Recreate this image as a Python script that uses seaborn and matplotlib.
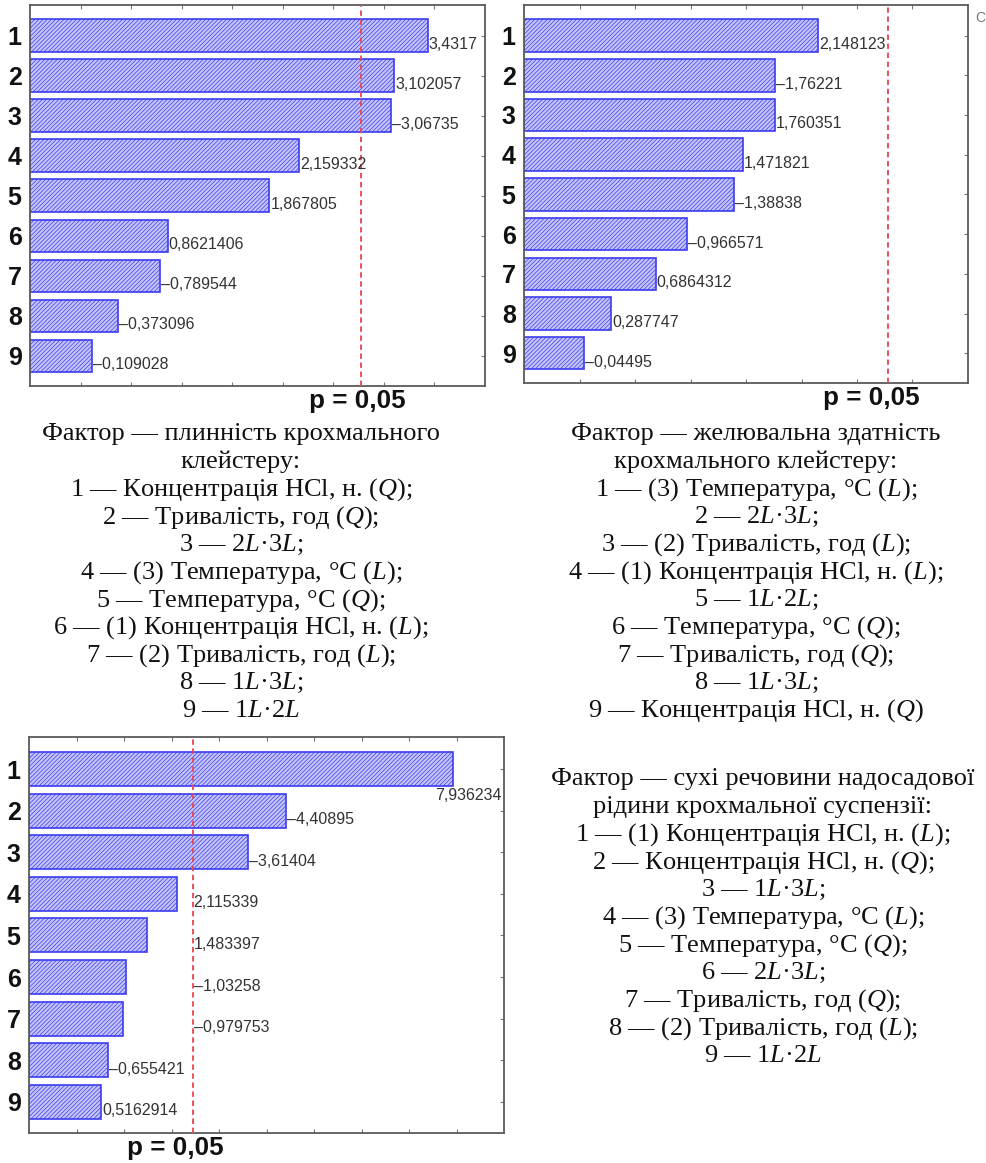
import numpy as np
import pandas as pd
import matplotlib
matplotlib.use("Agg")
import matplotlib.pyplot as plt
import seaborn as sns

# ---- data ---------------------------------------------------------------
factors = ["1", "2", "3", "4", "5", "6", "7", "8", "9"]

# standardized effect estimates (signed), Pareto order
effects_flow = [3.4317, 3.102057, -3.06735, 2.159332, 1.867805,
                0.8621406, -0.789544, -0.373096, -0.109028]
effects_gel = [2.148123, -1.76221, 1.760351, 1.471821, -1.38838,
               -0.966571, 0.6864312, 0.287747, -0.04495]
effects_solids = [7.936234, -4.40895, -3.61404, 2.115339, 1.483397,
                  -1.03258, -0.979753, -0.655421, 0.5162914]

# critical t values for p = 0,05
t_crit_flow = 2.776
t_crit_gel = 2.776
t_crit_solids = 2.447

p_label = "p = 0,05"

legend_flow = [
    "Фактор — плинність крохмального",
    "клейстеру:",
    "1 — Концентрація HCl, н. ($Q$);",
    "2 — Тривалість, год ($Q$);",
    "3 — 2$L$·3$L$;",
    "4 — (3) Температура, °C ($L$);",
    "5 — Температура, °C ($Q$);",
    "6 — (1) Концентрація HCl, н. ($L$);",
    "7 — (2) Тривалість, год ($L$);",
    "8 — 1$L$·3$L$;",
    "9 — 1$L$·2$L$",
]
legend_gel = [
    "Фактор — желювальна здатність",
    "крохмального клейстеру:",
    "1 — (3) Температура, °C ($L$);",
    "2 — 2$L$·3$L$;",
    "3 — (2) Тривалість, год ($L$);",
    "4 — (1) Концентрація HCl, н. ($L$);",
    "5 — 1$L$·2$L$;",
    "6 — Температура, °C ($Q$);",
    "7 — Тривалість, год ($Q$);",
    "8 — 1$L$·3$L$;",
    "9 — Концентрація HCl, н. ($Q$)",
]
legend_solids = [
    "Фактор — сухі речовини надосадової",
    "рідини крохмальної суспензії:",
    "1 — (1) Концентрація HCl, н. ($L$);",
    "2 — Концентрація HCl, н. ($Q$);",
    "3 — 1$L$·3$L$;",
    "4 — (3) Температура, °C ($L$);",
    "5 — Температура, °C ($Q$);",
    "6 — 2$L$·3$L$;",
    "7 — Тривалість, год ($Q$);",
    "8 — (2) Тривалість, год ($L$);",
    "9 — 1$L$·2$L$",
]

# ---- style --------------------------------------------------------------
sns.set_style("white")
plt.rcParams["font.family"] = ["Liberation Sans", "DejaVu Sans"]
plt.rcParams["mathtext.fontset"] = "custom"
plt.rcParams["mathtext.rm"] = "Liberation Serif"
plt.rcParams["mathtext.it"] = "Liberation Serif:italic"
plt.rcParams["hatch.linewidth"] = 0.5

W, H = 987, 1163
DPI = 100
fig = plt.figure(figsize=(W / DPI, H / DPI), dpi=DPI)
fig.patch.set_facecolor("white")

BAR_FACE = "#c4c4fb"
BAR_EDGE = "#3c3cf0"
LINE_RED = "#e8474c"
FRAME = "#5a5a5a"


def px_axes(left, top, right, bottom):
    return fig.add_axes([left / W, 1 - bottom / H, (right - left) / W, (bottom - top) / H])


def fmt_effect(v):
    s = "%.7g" % v
    return s.replace(".", ",").replace("-", "–")


def pareto(ax, effects, t_crit, xlim, xticks, p_dx, label_drop=None,
           labels_at_line=(), labels_at_edge=()):
    label_drop = label_drop or {}
    x_lo, x_hi = xlim
    mag = np.abs(np.array(effects))
    df = pd.DataFrame({"factor": factors, "span": mag - x_lo})
    ax.set_axisbelow(True)
    ax.grid(axis="y", color="#c4c4c4", lw=0.8, ls=(0, (1, 1.6)))
    sns.barplot(data=df, x="span", y="factor", orient="h", width=0.82,
                color=BAR_FACE, saturation=1, left=x_lo,
                facecolor=BAR_FACE, edgecolor=BAR_EDGE,
                hatch="////////", linewidth=1.2, ax=ax, zorder=2)
    ax.axvline(t_crit, color=LINE_RED, lw=1.3, ls=(0, (3, 2)), zorder=3)

    for i, (v, m) in enumerate(zip(effects, mag)):
        dy = -9 - label_drop.get(i, 0)
        if i in labels_at_edge:
            xpos, dx, ha = x_hi, -2, "right"
        else:
            xpos = t_crit if i in labels_at_line else m
            dx, ha = 1, "left"
        ax.annotate(fmt_effect(v), xy=(xpos, i), xytext=(dx, dy),
                    textcoords="offset pixels", ha=ha, va="center",
                    fontsize=11.5, color="#333333", zorder=4)

    ax.annotate(p_label, xy=(t_crit, 0), xycoords=("data", "axes fraction"),
                xytext=(p_dx, -22), textcoords="offset pixels",
                ha="center", va="baseline", fontsize=18.7, fontweight="bold",
                color="#111111", annotation_clip=False)

    ax.set_xlim(x_lo, x_hi)
    ax.set_ylim(8.75, -0.77)
    ax.set_xticks(xticks)
    ax.set_xlabel("")
    ax.set_ylabel("")
    ax.tick_params(axis="both", direction="in", length=3, width=0.8, color="#777777",
                   top=True, right=True, left=True, bottom=True, labelbottom=False)
    ax.tick_params(axis="y", labelsize=18, pad=6, labelcolor="#111111")
    for lbl in ax.get_yticklabels():
        lbl.set_fontweight("bold")
    for sp in ax.spines.values():
        sp.set_visible(True)
        sp.set_color(FRAME)
        sp.set_linewidth(1.3)


ax1 = px_axes(30, 5, 485, 386)
pareto(ax1, effects_flow, t_crit_flow, (-0.5, 4.0), np.arange(0, 3.51, 0.5), -4)

ax2 = px_axes(524, 5, 968, 383)
pareto(ax2, effects_gel, t_crit_gel, (-0.5, 3.5), np.arange(0, 3.01, 0.5), -16)

ax3 = px_axes(29, 737, 504, 1133)
pareto(ax3, effects_solids, t_crit_solids, (-1.0, 9.0), np.arange(0, 9), -17,
       label_drop={0: 17}, labels_at_line=(3, 4, 5, 6), labels_at_edge=(0,))

fig.text(975 / W, 1 - 22 / H, "C", fontsize=10, color="#777777", ha="left", va="baseline")


def legend_block(lines, cx, baseline0, step=27.7):
    for k, line in enumerate(lines):
        fig.text(cx / W, 1 - (baseline0 + k * step) / H, line, ha="center", va="baseline",
                 fontsize=19, family="Liberation Serif", color="#111111")


legend_block(legend_flow, 241, 440)
legend_block(legend_gel, 756, 440)
legend_block(legend_solids, 763, 785)

fig.savefig("out.png", dpi=DPI, facecolor="white")
